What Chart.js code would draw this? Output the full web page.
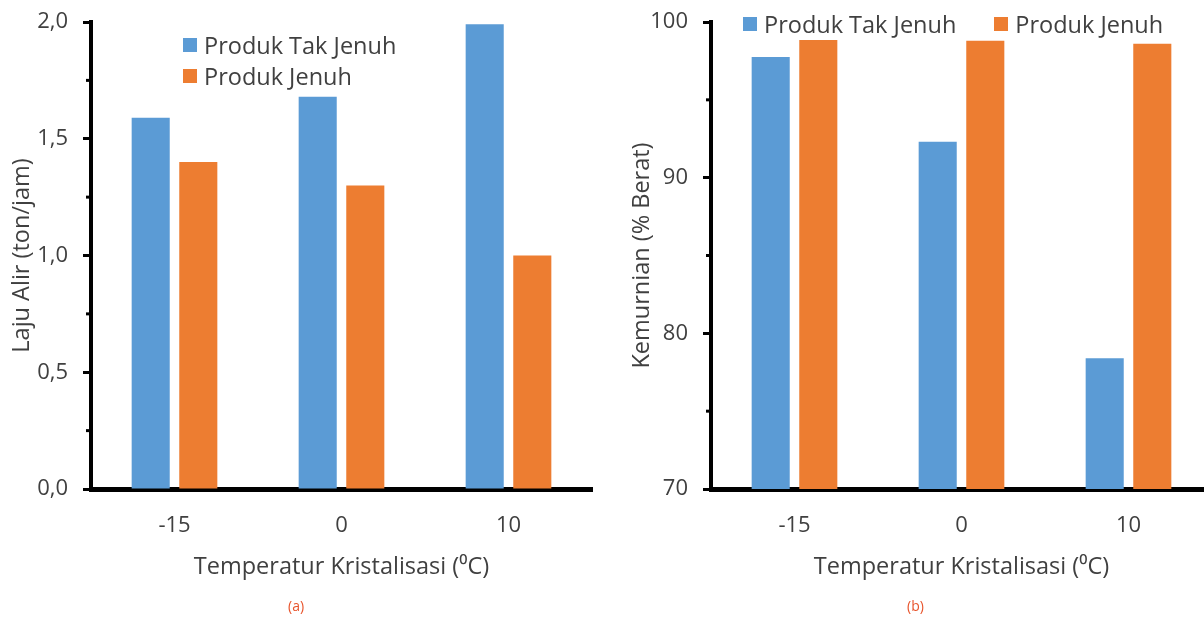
<!DOCTYPE html>
<html>
<head>
<meta charset="utf-8">
<script src="https://cdn.jsdelivr.net/npm/chart.js@4.4.1/dist/chart.umd.min.js"></script>
<style>
    body { margin: 0; width: 1204px; height: 617px; overflow: hidden; background: #fff; position: relative; font-family: "Open Sans", sans-serif; }
    .panel { position: absolute; top: 0; width: 600px; height: 600px; }
    .legend { position: absolute; color: #404040; font-size: 23.5px; line-height: 26px; }
    .legend .item { display: flex; align-items: center; white-space: nowrap; }
    .legend .box { width: 14px; height: 14px; margin-right: 7px; }
    .caption { position: absolute; top: 596px; font-family: "Open Sans", sans-serif; font-size: 14px; color: #e8542c; }
</style>
</head>
<body>
<div class="panel" style="left:0"><canvas id="flowChart"></canvas></div>
<div class="panel" style="left:620px"><canvas id="purityChart"></canvas></div>
<div class="legend" id="flowLegend" style="left:183px; top:32px"></div>
<div class="legend" id="purityLegend" style="left:743px; top:11px; display:flex"></div>
<div class="caption" style="left:288px">(a)</div>
<div class="caption" style="left:907px">(b)</div>

<script>
const temperatures = ["-15", "0", "10"];
const seriesNames = ["Produk Tak Jenuh", "Produk Jenuh"];
const seriesColors = ["#5b9bd5", "#ed7d31"];

// laju alir (ton/jam)
const flowUnsaturated = [1.59, 1.68, 1.99];
const flowSaturated = [1.40, 1.30, 1.00];

// kemurnian (% berat)
const purityUnsaturated = [97.75, 92.3, 78.4];
const puritySaturated = [98.85, 98.8, 98.6];

const textColor = "#404040";
const fontFamily = "'Open Sans', sans-serif";

// short ticks between the labelled ones
const minorTicks = {
    id: "minorTicks",
    afterDraw(chart) {
        const y = chart.scales.y;
        const ctx = chart.ctx;
        ctx.save();
        ctx.strokeStyle = "#000";
        ctx.lineWidth = 3;
        y.ticks.forEach((t) => {
            if (t.label !== "") return;
            const py = y.getPixelForValue(t.value);
            ctx.beginPath();
            ctx.moveTo(y.right - 5, py);
            ctx.lineTo(y.right, py);
            ctx.stroke();
        });
        ctx.restore();
    },
};

function makeChart(id, values, yTitle, yMin, yMax, yStep, yMajor, fmt) {
    const isMajor = (v) => Math.abs(v / yMajor - Math.round(v / yMajor)) < 1e-6;
    const ctx = document.getElementById(id).getContext("2d");
    return new Chart(ctx, {
        type: "bar",
        data: {
            labels: temperatures,
            datasets: values.map((data, i) => ({
                label: seriesNames[i],
                data: data,
                backgroundColor: seriesColors[i],
                categoryPercentage: 0.57,
                barPercentage: 0.8,
            })),
        },
        plugins: [minorTicks],
        options: {
            responsive: false,
            animation: false,
            layout: { padding: { top: 22, right: 8, left: 0, bottom: 0 } },
            plugins: {
                legend: { display: false },
                tooltip: { enabled: false },
            },
            scales: {
                x: {
                    grid: { display: false, drawTicks: false },
                    border: { color: "#000", width: 5 },
                    ticks: { color: textColor, font: { family: fontFamily, size: 22 }, padding: 24 },
                    title: {
                        display: true,
                        text: "Temperatur Kristalisasi (⁰C)",
                        color: textColor,
                        font: { family: fontFamily, size: 23.5 },
                        padding: { top: 0, bottom: 19 },
                    },
                    afterFit: (scale) => { scale.height = 111; },
                },
                y: {
                    min: yMin,
                    max: yMax,
                    grid: {
                        drawOnChartArea: false,
                        tickLength: 8,
                        tickWidth: 3,
                        tickColor: (c) => (isMajor(c.tick.value) ? "#000" : "rgba(0,0,0,0)"),
                    },
                    border: { color: "#000", width: 4 },
                    ticks: {
                        stepSize: yStep,
                        color: textColor,
                        font: { family: fontFamily, size: 22 },
                        padding: 15,
                        callback: (v) => (isMajor(v) ? fmt(v) : ""),
                    },
                    title: {
                        display: true,
                        text: yTitle,
                        color: textColor,
                        font: { family: fontFamily, size: 23.5 },
                        padding: { top: 8, bottom: 0 },
                    },
                    afterFit: (scale) => {
                        scale.width = 91;
                        scale.paddingTop = 0;
                        scale.paddingBottom = 0;
                    },
                },
            },
        },
    });
}

function buildLegend(chart, el, vertical) {
    chart.data.datasets.forEach((ds, i) => {
        const item = document.createElement("div");
        item.className = "item";
        if (vertical && i > 0) item.style.marginTop = "5px";
        if (!vertical && i > 0) item.style.marginLeft = "38px";
        item.innerHTML = '<span class="box" style="background:' + ds.backgroundColor + '"></span><span>' + ds.label + "</span>";
        el.appendChild(item);
    });
}

document.getElementById("flowChart").width = 600;
document.getElementById("flowChart").height = 600;
document.getElementById("purityChart").width = 600;
document.getElementById("purityChart").height = 600;

const flowChart = makeChart("flowChart", [flowUnsaturated, flowSaturated], "Laju Alir (ton/jam)",
    0, 2, 0.25, 0.5, (v) => v.toFixed(1).replace(".", ","));
const purityChart = makeChart("purityChart", [purityUnsaturated, puritySaturated], "Kemurnian (% Berat)",
    70, 100, 5, 10, (v) => String(v));

buildLegend(flowChart, document.getElementById("flowLegend"), true);
buildLegend(purityChart, document.getElementById("purityLegend"), false);
</script>
</body>
</html>
